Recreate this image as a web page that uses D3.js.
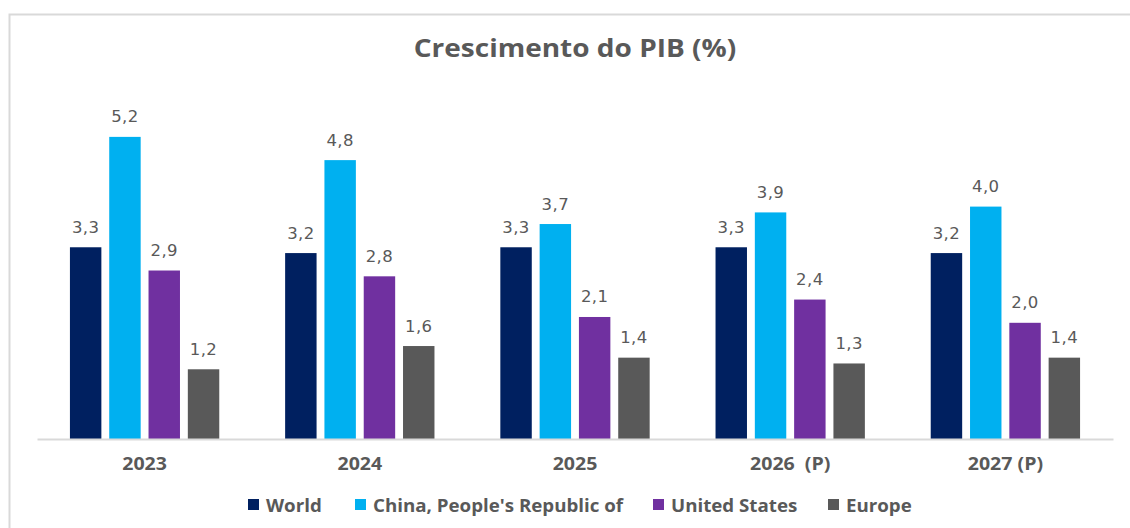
<!DOCTYPE html>
<html><head><meta charset="utf-8">
<script src="https://cdn.jsdelivr.net/npm/d3@7"></script>
<style>body{margin:0;background:#fff}svg{display:block}</style>
</head><body>
<svg id="c" width="1130" height="528"></svg>
<script>
const categories = ["2023", "2024", "2025", "2026  (P)", "2027 (P)"];
const seriesNames = ["World", "China, People's Republic of", "United States", "Europe"];
const world  = [3.3, 3.2, 3.3, 3.3, 3.2];
const china  = [5.2, 4.8, 3.7, 3.9, 4.0];
const usa    = [2.9, 2.8, 2.1, 2.4, 2.0];
const europe = [1.2, 1.6, 1.4, 1.3, 1.4];
const colors = ["#002060", "#00B0F0", "#7030A0", "#595959"];
const seriesValues = [world, china, usa, europe];

const svg = d3.select("#c");
// frame
svg.append("path").attr("d","M9.5,528 V14.5 H1130").attr("fill","none").attr("stroke","#d9d9d9").attr("stroke-width",2);

const pLeft = 37, pRight = 1113, pTop = 90.4, pBottom = 439;
const x0 = d3.scaleBand().domain(categories).range([pLeft, pRight]).paddingInner(0).paddingOuter(0);
const x1 = d3.scaleBand().domain(d3.range(4)).range([0, x0.bandwidth()]).paddingInner(0.2).paddingOuter(0.838);
const y = d3.scaleLinear().domain([0, 6]).range([pBottom, pTop]);

svg.append("text").attr("transform", "translate(575,57) scale(1.12,1)").attr("text-anchor","middle")
  .attr("font-family","Open Sans").attr("font-weight","bold").attr("font-size",25).attr("fill","#595959")
  .text("Crescimento do PIB (%)");

const g = svg.append("g");
seriesValues.forEach((vals, si) => {
  vals.forEach((v, ci) => {
    const bx = x0(categories[ci]) + x1(si);
    g.append("rect").attr("x", bx).attr("y", y(v)).attr("width", x1.bandwidth()).attr("height", y(0) - y(v))
      .attr("fill", colors[si]);
    g.append("text").attr("x", bx + x1.bandwidth()/2).attr("y", y(v) - 14.5).attr("text-anchor","middle")
      .attr("font-family","DejaVu Sans").attr("font-size",16.5).attr("fill","#595959").attr("letter-spacing",0.4)
      .text(d3.format(".1f")(v).replace(".", ","));
  });
});

// axis baseline
const ax = svg.append("g").attr("transform", `translate(0,${pBottom})`)
  .call(d3.axisBottom(x0).tickSize(0));
ax.select(".domain").attr("stroke","#d9d9d9").attr("stroke-width",2);
ax.selectAll(".tick text").attr("y", 31).attr("dy", 0).attr("transform","scale(1.15,1)")
  .attr("font-family","Open Sans").attr("font-weight","bold").attr("font-size",17).attr("fill","#595959")
  .style("white-space","pre").attr("xml:space","preserve");

// legend
const legX = [248, 355, 653, 828];
const lg = svg.append("g");
seriesNames.forEach((n, i) => {
  lg.append("rect").attr("x", legX[i]).attr("y", 499).attr("width", 11).attr("height", 11).attr("fill", colors[i]);
  lg.append("text").attr("transform", `translate(${legX[i] + 18},511.5) scale(1.04,1)`).attr("font-family","Open Sans").attr("font-weight","bold")
    .attr("font-size",18).attr("fill","#595959").text(n);
});
</script>
</body></html>
